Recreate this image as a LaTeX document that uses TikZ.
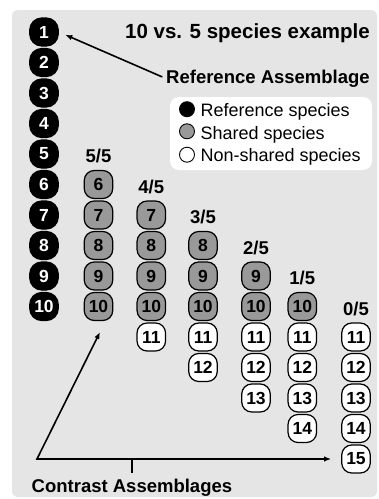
\documentclass[tikz,border=0pt]{standalone}
\usepackage{fontspec}
\setmainfont{Liberation Sans}
\usetikzlibrary{arrows.meta,calc}
\begin{document}
\begin{tikzpicture}[x=1pt,y=-1pt,
  sp/.style={draw=black, line width=1.2pt, rounded corners=10pt, minimum width=28.5pt, minimum height=28pt, inner sep=0pt, font=\fontsize{17.5}{17.5}\selectfont\bfseries},
  refsp/.style={sp, fill=black, text=white, rounded corners=12pt},
  shsp/.style={sp, fill=black!40},
  nssp/.style={sp, fill=white},
  fraclab/.style={font=\fontsize{18.5}{18.5}\selectfont\bfseries, inner sep=0pt, anchor=base},
  biglab/.style={font=\fontsize{18.5}{18.5}\selectfont\bfseries, inner sep=0pt},
  legdot/.style={circle, draw=black, line width=0.9pt, minimum size=15pt, inner sep=0pt},
  legtxt/.style={font=\fontsize{18}{18}\selectfont, inner sep=0pt, anchor=base west},
  arrtip/.tip={Latex[length=7pt,width=5.5pt]},
  arr/.style={line width=1.6pt, -arrtip}
]
\useasboundingbox (0,0) rectangle (379,499);
\fill[white] (0,0) rectangle (379,499);
\fill[gray!20, rounded corners=6pt] (12,10) rectangle (377,497);

% reference assemblage
\foreach \n in {1,...,10}
  \node[refsp] (r\n) at (44,{32+(\n-1)*30.5}) {\n};

% contrast assemblages
\foreach \c/\x/\s/\e/\f in {1/98.5/6/10/5, 2/151.3/7/11/4, 3/203/8/12/3, 4/256/9/13/2, 5/302.3/10/14/1, 6/356/11/15/0}{
  \node[fraclab] (f\c) at (\x,{32+(\s-1)*30.5-22}) {\f/5};
  \foreach \n in {\s,...,\e}{
    \ifnum\n<11 \def\st{shsp}\else\def\st{nssp}\fi
    \node[\st] (c\c-\n) at (\x,{32+(\n-1)*30.5}) {\n};
  }
}

% titles
\node[font=\fontsize{20.5}{20.5}\selectfont\bfseries, inner sep=0pt, anchor=base east] (title) at (370,38) {10 vs. 5 species example};
\node[biglab, anchor=base east] (reflab) at (370,83.3) {Reference Assemblage};
\node[biglab, anchor=base west] (conlab) at (31.5,492.5) {Contrast Assemblages};

% legend
\node[fill=white, rounded corners=9pt, minimum width=202pt, minimum height=73pt, inner sep=0pt] (legend) at (271,133.5) {};
\node[legdot, fill=black] (l1) at (187,109.2) {};
\node[legdot, fill=black!40] (l2) at (187,131.3) {};
\node[legdot, fill=white] (l3) at (187,154.7) {};
\node[legtxt] (t1) at (200.5,116.7) {Reference species};
\node[legtxt] (t2) at (200.5,139.3) {Shared species};
\node[legtxt] (t3) at (200.5,161.7) {Non-shared species};

% arrows
\draw[arr, shorten <=4pt, shorten >=7pt] (reflab.west) -- (r1.east);
\coordinate (corner) at (37,459);
\coordinate (diagtip) at (100,332);
\draw[line width=1.6pt, arrtip-arrtip, line join=miter, shorten >=10pt] (diagtip) -- (corner) -- (c6-15.west);
\draw[line width=1.6pt] ([yshift=6pt]conlab.north) -- (conlab.north |- corner);
\end{tikzpicture}
\end{document}
